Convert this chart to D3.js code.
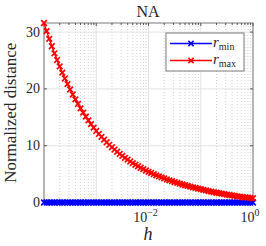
<!DOCTYPE html>
<html>
<head>
    <script src="https://d3js.org/d3.v7.min.js"></script>
</head>
<body style="margin:0">
<svg id="chart" width="266" height="246"></svg>
<script>
// log10 of h at each sample
const hExp = [-4, -3.95, -3.9, -3.85, -3.8, -3.75, -3.7, -3.65, -3.6, -3.55,
    -3.5, -3.45, -3.4, -3.35, -3.3, -3.25, -3.2, -3.15, -3.1, -3.05,
    -3, -2.95, -2.9, -2.85, -2.8, -2.75, -2.7, -2.65, -2.6, -2.55,
    -2.5, -2.45, -2.4, -2.35, -2.3, -2.25, -2.2, -2.15, -2.1, -2.05,
    -2, -1.95, -1.9, -1.85, -1.8, -1.75, -1.7, -1.65, -1.6, -1.55,
    -1.5, -1.45, -1.4, -1.35, -1.3, -1.25, -1.2, -1.15, -1.1, -1.05,
    -1, -0.95, -0.9, -0.85, -0.8, -0.75, -0.7, -0.65, -0.6, -0.55,
    -0.5, -0.45, -0.4, -0.35, -0.3, -0.25, -0.2, -0.15, -0.1, -0.05, 0];

const rMax = [31.6, 30.17, 28.81, 27.51, 26.27, 25.08, 23.95, 22.87, 21.83, 20.85,
    19.9, 19.01, 18.16, 17.35, 16.57, 15.83, 15.12, 14.45, 13.8, 13.18,
    12.6, 12.07, 11.56, 11.07, 10.61, 10.16, 9.73, 9.32, 8.93, 8.55,
    8.2, 7.86, 7.54, 7.23, 6.94, 6.65, 6.38, 6.12, 5.87, 5.63,
    5.4, 5.19, 4.98, 4.78, 4.59, 4.41, 4.23, 4.06, 3.9, 3.75,
    3.6, 3.45, 3.31, 3.17, 3.04, 2.91, 2.79, 2.67, 2.56, 2.45,
    2.35, 2.23, 2.12, 2.01, 1.91, 1.81, 1.72, 1.64, 1.55, 1.47,
    1.4, 1.32, 1.24, 1.16, 1.09, 1.02, 0.96, 0.9, 0.85, 0.8, 0.75];

const rMin = [0, 0, 0, 0, 0, 0, 0, 0, 0, 0,
    0, 0, 0, 0, 0, 0, 0, 0, 0, 0,
    0, 0, 0, 0, 0, 0, 0, 0, 0, 0,
    0, 0, 0, 0, 0, 0, 0, 0, 0, 0,
    0, 0, 0, 0, 0, 0, 0, 0, 0, 0,
    0, 0, 0, 0, 0, 0, 0, 0, 0, 0,
    0, 0, 0, 0, 0, 0, 0, 0, 0, 0,
    0, 0, 0, 0, 0, 0, 0, 0, 0, 0, 0];

const yTicks = [0, 10, 20, 30];
const xTickExp = [-2, 0];
const xGridExp = [-4, -3, -2, -1, 0];

const INK = "#262626";

const svg = d3.select("#chart");
const pLeft = 44, pRight = 253, pTop = 23, pBottom = 202.5;

const x = d3.scaleLog().domain([1e-4, 1]).range([pLeft, pRight]);
const y = d3.scaleLinear().domain([0, 31.6]).range([pBottom, pTop]);

// serif text helper
function label(parent, size) {
    return parent.append("text")
        .style("font-family", `"Liberation Serif"`)
        .attr("font-size", size).attr("fill", INK);
}

// minor log positions for dotted grid and minor ticks
const minor = [];
for (let e = -4; e < 0; e++) {
    for (let m = 2; m <= 9; m++) minor.push(m * Math.pow(10, e));
}

const grid = svg.append("g");
grid.selectAll(".minor").data(minor).join("line")
    .attr("x1", d => x(d)).attr("x2", d => x(d))
    .attr("y1", pTop).attr("y2", pBottom)
    .attr("stroke", "#c8c8c8").attr("stroke-width", 0.8)
    .attr("stroke-dasharray", "1,2");
grid.selectAll(".major").data(xGridExp).join("line")
    .attr("x1", d => x(Math.pow(10, d))).attr("x2", d => x(Math.pow(10, d)))
    .attr("y1", pTop).attr("y2", pBottom)
    .attr("stroke", "#e3e3e3").attr("stroke-width", 1);
grid.selectAll(".ymajor").data(yTicks).join("line")
    .attr("x1", pLeft).attr("x2", pRight)
    .attr("y1", d => y(d)).attr("y2", d => y(d))
    .attr("stroke", "#e3e3e3").attr("stroke-width", 1);

// box
svg.append("rect")
    .attr("x", pLeft).attr("y", pTop)
    .attr("width", pRight - pLeft).attr("height", pBottom - pTop)
    .attr("fill", "none").attr("stroke", "#7a7a7a").attr("stroke-width", 1);

// ticks, inward on all four sides
const ticks = svg.append("g").attr("stroke", "#555").attr("stroke-width", 1);
yTicks.forEach(v => {
    ticks.append("line").attr("x1", pLeft).attr("x2", pLeft + 3).attr("y1", y(v)).attr("y2", y(v));
    ticks.append("line").attr("x1", pRight).attr("x2", pRight - 3).attr("y1", y(v)).attr("y2", y(v));
});
xGridExp.forEach(e => {
    const px = x(Math.pow(10, e));
    ticks.append("line").attr("x1", px).attr("x2", px).attr("y1", pBottom).attr("y2", pBottom - 3);
    ticks.append("line").attr("x1", px).attr("x2", px).attr("y1", pTop).attr("y2", pTop + 3);
});
minor.forEach(v => {
    ticks.append("line").attr("x1", x(v)).attr("x2", x(v)).attr("y1", pBottom).attr("y2", pBottom - 2);
    ticks.append("line").attr("x1", x(v)).attr("x2", x(v)).attr("y1", pTop).attr("y2", pTop + 2);
});

// tick labels
yTicks.forEach(v => {
    label(svg, 14).attr("x", pLeft - 4).attr("y", y(v) + 4.5)
        .attr("text-anchor", "end").text(v);
});
xTickExp.forEach(e => {
    const t = label(svg, 14)
        .attr("x", x(Math.pow(10, e)) - 3).attr("y", pBottom + 19)
        .attr("text-anchor", "middle");
    t.append("tspan").text("10");
    t.append("tspan").attr("dy", -6).attr("font-size", 10).text(e === 0 ? "0" : "\u2212" + Math.abs(e));
});

// series
const line = d3.line().x((d, i) => x(Math.pow(10, hExp[i]))).y(d => y(d));
function drawSeries(vals, color) {
    const g = svg.append("g");
    g.append("path").datum(vals).attr("d", line)
        .attr("fill", "none").attr("stroke", color).attr("stroke-width", 1.4);
    g.selectAll("path.m").data(vals).join("path").attr("class", "m")
        .attr("d", (d, i) => {
            const cx = x(Math.pow(10, hExp[i])), cy = y(d), s = 2.8;
            return `M${cx - s},${cy - s}L${cx + s},${cy + s}M${cx - s},${cy + s}L${cx + s},${cy - s}`;
        })
        .attr("stroke", color).attr("stroke-width", 1.7);
}
drawSeries(rMin, "#0000ff");
drawSeries(rMax, "#ff0000");

// legend
const lg = svg.append("g");
lg.append("rect").attr("x", 166).attr("y", 33).attr("width", 78).attr("height", 38)
    .attr("fill", "#fff").attr("stroke", "#7a7a7a").attr("stroke-width", 1);
[["min", "#0000ff", 43.5], ["max", "#ff0000", 60.5]].forEach(([sub, color, ly]) => {
    lg.append("line").attr("x1", 170).attr("x2", 212).attr("y1", ly).attr("y2", ly)
        .attr("stroke", color).attr("stroke-width", 1.4);
    lg.append("path")
        .attr("d", `M${191 - 2.6},${ly - 2.6}L${191 + 2.6},${ly + 2.6}M${191 - 2.6},${ly + 2.6}L${191 + 2.6},${ly - 2.6}`)
        .attr("stroke", color).attr("stroke-width", 1.5);
    const t = label(lg, 15).attr("x", 213).attr("y", ly + 3);
    t.append("tspan").attr("font-style", "italic").text("r");
    t.append("tspan").attr("dy", 3).attr("font-size", 10).text(sub);
});

// title and axis labels
label(svg, 16).attr("x", 148).attr("y", 16.5).attr("text-anchor", "middle").text("NA");
label(svg, 18).attr("x", 148).attr("y", 240).attr("text-anchor", "middle")
    .attr("font-style", "italic").text("h");
label(svg, 17)
    .attr("transform", `translate(16,${(pTop + pBottom) / 2}) rotate(-90)`)
    .attr("text-anchor", "middle")
    .text("Normalized distance");
</script>
</body>
</html>
